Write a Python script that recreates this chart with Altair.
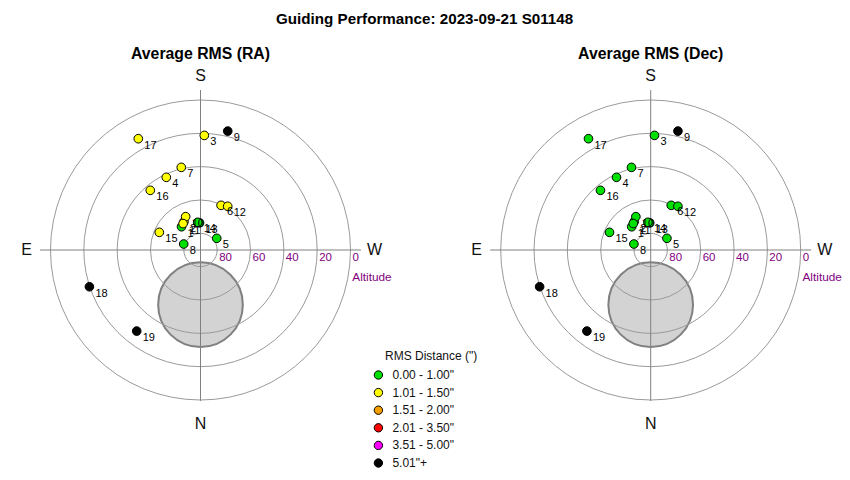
import altair as alt
import pandas as pd

# ---------------- data ----------------
panels = ["Average RMS (RA)", "Average RMS (Dec)"]
point_ids = list(range(1, 20))
altitudes = [72.0, 70.3, 21.2, 41.8, 78.0, 60.5, 39.1, 79.3, 16.8, 68.1,
             71.0, 59.1, 73.7, 73.3, 63.1, 43.2, 13.5, 19.8, 28.1]
azimuths = [140.8, 149.8, 181.9, 154.8, 234.2, 204.7, 166.9, 109.6, 192.9, 156.0,
            146.6, 211.9, 177.9, 174.2, 113.2, 139.9, 150.8, 71.7, 38.2]

categories = ['0.00 - 1.00"', '1.01 - 1.50"', '1.51 - 2.00"',
              '2.01 - 3.50"', '3.51 - 5.00"', '5.01"+']
colors = ["#00e000", "#ffff00", "#f5a000", "#ff0000", "#ff00ff", "#000000"]

# category index per point (0 = green ... 5 = black)
ra_class = [0, 1, 1, 1, 0, 1, 1, 0, 5, 1, 1, 1, 0, 0, 1, 1, 1, 5, 5]
dec_class = [0, 0, 0, 0, 0, 0, 0, 0, 5, 0, 0, 0, 0, 0, 0, 0, 0, 5, 5]

ring_altitudes = [0, 20, 40, 60, 80]
ring_labels = ["0", "20", "40", "60", "80"]
directions = ["S", "E", "N", "W"]
direction_az = [180, 90, 0, 270]

zone_alt = 57.2      # grey exclusion disc centre altitude
zone_az = 0.0        # and azimuth (north)
zone_radius = 25.4   # radius in degrees

main_title = "Guiding Performance: 2023-09-21 S01148"
legend_title = 'RMS Distance (")'

# ---------------- layout ----------------
W, H = 834, 464
CX = [200.5, 650.7]
CY = 250.0
K = 150.0 / 90.0   # px per degree of zenith distance
FONT = "Liberation Sans"

xs = alt.Scale(domain=[8, 8 + W])
ys = alt.Scale(domain=[8, 8 + H], reverse=True)

def X(f):
    return alt.X(f, type="quantitative", scale=xs, axis=None)

def Y(f):
    return alt.Y(f, type="quantitative", scale=ys, axis=None)

panel_df = pd.DataFrame({"panel": panels, "cx": CX, "cy": [CY, CY]})

# points
rows = []
for p, cls in zip(panels, [ra_class, dec_class]):
    for i, a, z, c in zip(point_ids, altitudes, azimuths, cls):
        rows.append({"panel": p, "id": str(i), "alt": a, "az": z,
                     "cat": categories[c]})
pts = pd.DataFrame(rows).merge(panel_df, on="panel")
pts["order"] = pts["id"].astype(int)

proj = dict(
    px="datum.cx - %f*(90-datum.alt)*sin(datum.az*PI/180)" % K,
    py="datum.cy + %f*(90-datum.alt)*cos(datum.az*PI/180)" % K,
)

rings = pd.DataFrame([{"panel": p, "alt": a, "lab": l}
                      for p in panels for a, l in zip(ring_altitudes, ring_labels)]).merge(panel_df, on="panel")
rings["size"] = (2 * K * (90 - rings["alt"])) ** 2
rings["lx"] = rings["cx"] + K * (90 - rings["alt"]) + 2
rings["ly"] = rings["cy"] + 8

zone = panel_df.copy()
zone["alt"] = zone_alt
zone["az"] = zone_az
zone["size"] = (2 * K * zone_radius) ** 2

lines = panel_df.copy()
lines["x1"] = lines["cx"] - 160.5
lines["x2"] = lines["cx"] + 160.5
lines["y1"] = lines["cy"] - 160
lines["y2"] = lines["cy"] + 151

dirs = pd.DataFrame([{"panel": p, "d": d, "az": a}
                     for p in panels for d, a in zip(directions, direction_az)]).merge(panel_df, on="panel")
dirs["dist"] = 174.0

zone_layer = alt.Chart(zone).transform_calculate(**proj).mark_point(
    shape="circle", filled=True, fill="#d3d3d3", stroke="#808080",
    strokeWidth=2, opacity=1
).encode(x=X("px:Q"), y=Y("py:Q"), size=alt.Size("size:Q", scale=None))

ring_layer = alt.Chart(rings).mark_point(
    shape="circle", filled=False, stroke="#9a9a9a", strokeWidth=1, opacity=1
).encode(x=X("cx:Q"), y=Y("cy:Q"), size=alt.Size("size:Q", scale=None))

hline = alt.Chart(lines).mark_rule(color="#808080", strokeWidth=1).encode(
    x=X("x1:Q"), x2="x2:Q", y=Y("cy:Q"))
vline = alt.Chart(lines).mark_rule(color="#808080", strokeWidth=1).encode(
    x=X("cx:Q"), y=Y("y1:Q"), y2="y2:Q")

point_layer = alt.Chart(pts).transform_calculate(**proj).mark_point(
    shape="circle", filled=True, stroke="black", strokeWidth=1, size=75, opacity=1
).encode(
    x=X("px:Q"), y=Y("py:Q"),
    fill=alt.Fill("cat:N", scale=alt.Scale(domain=categories, range=colors),
                  legend=alt.Legend(title=None, orient="none", legendX=364.4, legendY=361,
                                    symbolType="circle", symbolStrokeColor="black",
                                    symbolStrokeWidth=1, symbolSize=70,
                                    labelFont=FONT, labelFontSize=12, labelColor="#111",
                                    labelOffset=8, rowPadding=3.6, padding=0)),
    order=alt.Order("order:Q"),
)

label_layer = alt.Chart(pts).transform_calculate(**proj).mark_text(
    align="left", baseline="middle", dx=6, dy=7, font=FONT, fontSize=11, color="black"
).encode(x=X("px:Q"), y=Y("py:Q"), text="id:N")

ring_text = alt.Chart(rings).mark_text(
    align="left", baseline="middle", font=FONT, fontSize=11.5, color="#800080"
).encode(x=X("lx:Q"), y=Y("ly:Q"), text="lab:N")

alt_text = alt.Chart(panel_df).transform_calculate(
    tx="datum.cx + 151.8", ty="datum.cy + 27", t="'Altitude'"
).mark_text(align="left", baseline="middle", font=FONT, fontSize=11.8, color="#800080").encode(
    x=X("tx:Q"), y=Y("ty:Q"), text="t:N")

dir_text = alt.Chart(dirs).transform_calculate(
    tx="datum.cx - datum.dist*sin(datum.az*PI/180)",
    ty="datum.cy + datum.dist*cos(datum.az*PI/180)"
).mark_text(align="center", baseline="middle", font=FONT, fontSize=16, color="#111").encode(
    x=X("tx:Q"), y=Y("ty:Q"), text="d:N")

panel_titles = alt.Chart(panel_df).transform_calculate(ty="datum.cy - 196").mark_text(
    align="center", baseline="middle", font=FONT, fontSize=15.8, fontWeight="bold", color="black"
).encode(x=X("cx:Q"), y=Y("ty:Q"), text="panel:N")

title_df = pd.DataFrame({"t": [main_title], "x": [(CX[0] + CX[1]) / 2 - 1], "y": [19]})
main_title_layer = alt.Chart(title_df).mark_text(
    align="center", baseline="middle", font=FONT, fontSize=15.2, fontWeight="bold", color="black"
).encode(x=X("x:Q"), y=Y("y:Q"), text="t:N")

lt_df = pd.DataFrame({"t": [legend_title], "x": [385], "y": [356]})
legend_title_layer = alt.Chart(lt_df).mark_text(
    align="left", baseline="middle", font=FONT, fontSize=12, color="#111"
).encode(x=X("x:Q"), y=Y("y:Q"), text="t:N")

chart = alt.layer(
    zone_layer, ring_layer, hline, vline, point_layer, label_layer,
    ring_text, alt_text, dir_text, panel_titles, main_title_layer, legend_title_layer
).properties(
    width=W, height=H, autosize=alt.AutoSizeParams(type="none"), padding=0
).configure(background="white").configure_view(stroke=None)

chart.save("out.html", embed_options={"renderer": "svg", "actions": False})
